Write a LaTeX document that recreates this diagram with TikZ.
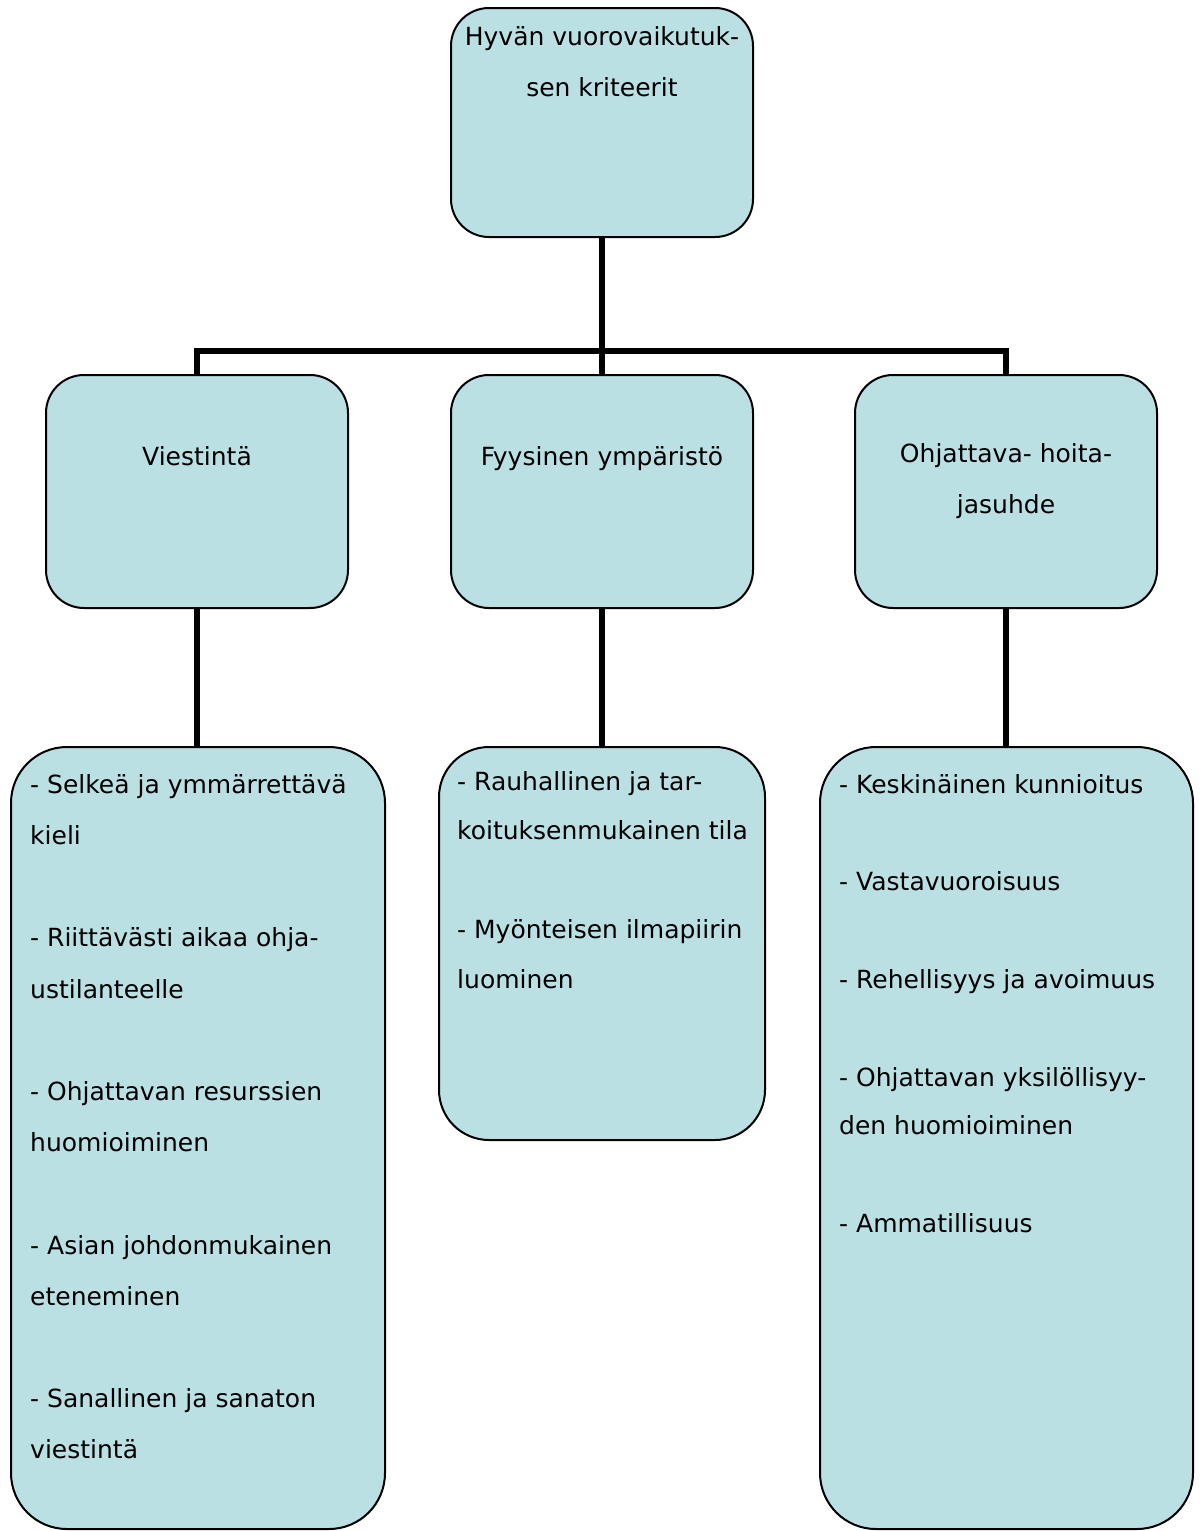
\documentclass[tikz,border=0pt]{standalone}
\usepackage{fontspec}
\setmainfont{DejaVu Sans}
\definecolor{boxfill}{RGB}{186,224,227}
\tikzset{
  box/.style={draw=black, line width=2pt, fill=boxfill, rectangle, inner sep=0pt},
  conn/.style={draw=black, line width=5.5pt, line join=miter, line cap=butt},
  txt/.style={inner sep=0pt, text=black},
}
\newcommand{\fs}[1]{\fontsize{25}{#1}\selectfont}
\newcommand{\fr}{\rule{0pt}{22.5pt}}
\begin{document}
\begin{tikzpicture}[x=1pt,y=-1pt]
\useasboundingbox (0,0) rectangle (1202,1531);
% boxes
\node[box, rounded corners=38pt, minimum width=302pt, minimum height=229pt] (top) at (602,122.5) {};
\node[box, rounded corners=38pt, minimum width=302pt, minimum height=233pt] (m1) at (197,491.5) {};
\node[box, rounded corners=38pt, minimum width=302pt, minimum height=233pt] (m2) at (602,491.5) {};
\node[box, rounded corners=38pt, minimum width=302pt, minimum height=233pt] (m3) at (1006,491.5) {};
\node[box, rounded corners=56pt, minimum width=374pt, minimum height=782pt] (b1) at (198,1138) {};
\node[box, rounded corners=50pt, minimum width=326pt, minimum height=393pt] (b2) at (602,943.5) {};
\node[box, rounded corners=56pt, minimum width=373pt, minimum height=782pt] (b3) at (1006.5,1138) {};
% connectors
\coordinate (j) at (602,351);
\draw[conn] (top.south) -- (m2.north);
\draw[conn] (m1.north) |- (j) -| (m3.north);
\draw[conn] (m1.south) -- (m1.south |- b1.north);
\draw[conn] (m2.south) -- (b2.north);
\draw[conn] (m3.south) -- (m3.south |- b3.north);
% texts
\node[txt, anchor=north, align=center, font=\fs{51}] (t0) at (602,22.5) {\fr Hyvän vuorovaikutuk-\\sen kriteerit};
\node[txt, anchor=north, align=center, font=\fs{51}] (t1) at (197,442.5) {\fr Viestintä};
\node[txt, anchor=north, align=center, font=\fs{51}] (t2) at (602,442.5) {\fr Fyysinen ympäristö};
\node[txt, anchor=north, align=center, font=\fs{51}] (t3) at (1006,439.5) {\fr Ohjattava- hoita-\\jasuhde};
\node[txt, anchor=north west, align=left, font=\fs{51.2}] (t4) at (30,770.5) {\fr - Selkeä ja ymmärrettävä\\kieli\\[51.2pt]- Riittävästi aikaa ohja-\\ustilanteelle\\[51.2pt]- Ohjattavan resurssien\\huomioiminen\\[51.2pt]- Asian johdonmukainen\\eteneminen\\[51.2pt]- Sanallinen ja sanaton\\viestintä};
\node[txt, anchor=north west, align=left, font=\fs{49.5}] (t5) at (457,767.5) {\fr - Rauhallinen ja tar-\\koituksenmukainen tila\\[49.5pt]- Myönteisen ilmapiirin\\luominen};
\node[txt, anchor=north west, align=left, font=\fs{48.8}] (t6) at (839,770.5) {\fr - Keskinäinen kunnioitus\\[48.8pt]- Vastavuoroisuus\\[48.8pt]- Rehellisyys ja avoimuus\\[48.8pt]- Ohjattavan yksilöllisyy-\\den huomioiminen\\[48.8pt]- Ammatillisuus};
\end{tikzpicture}
\end{document}
